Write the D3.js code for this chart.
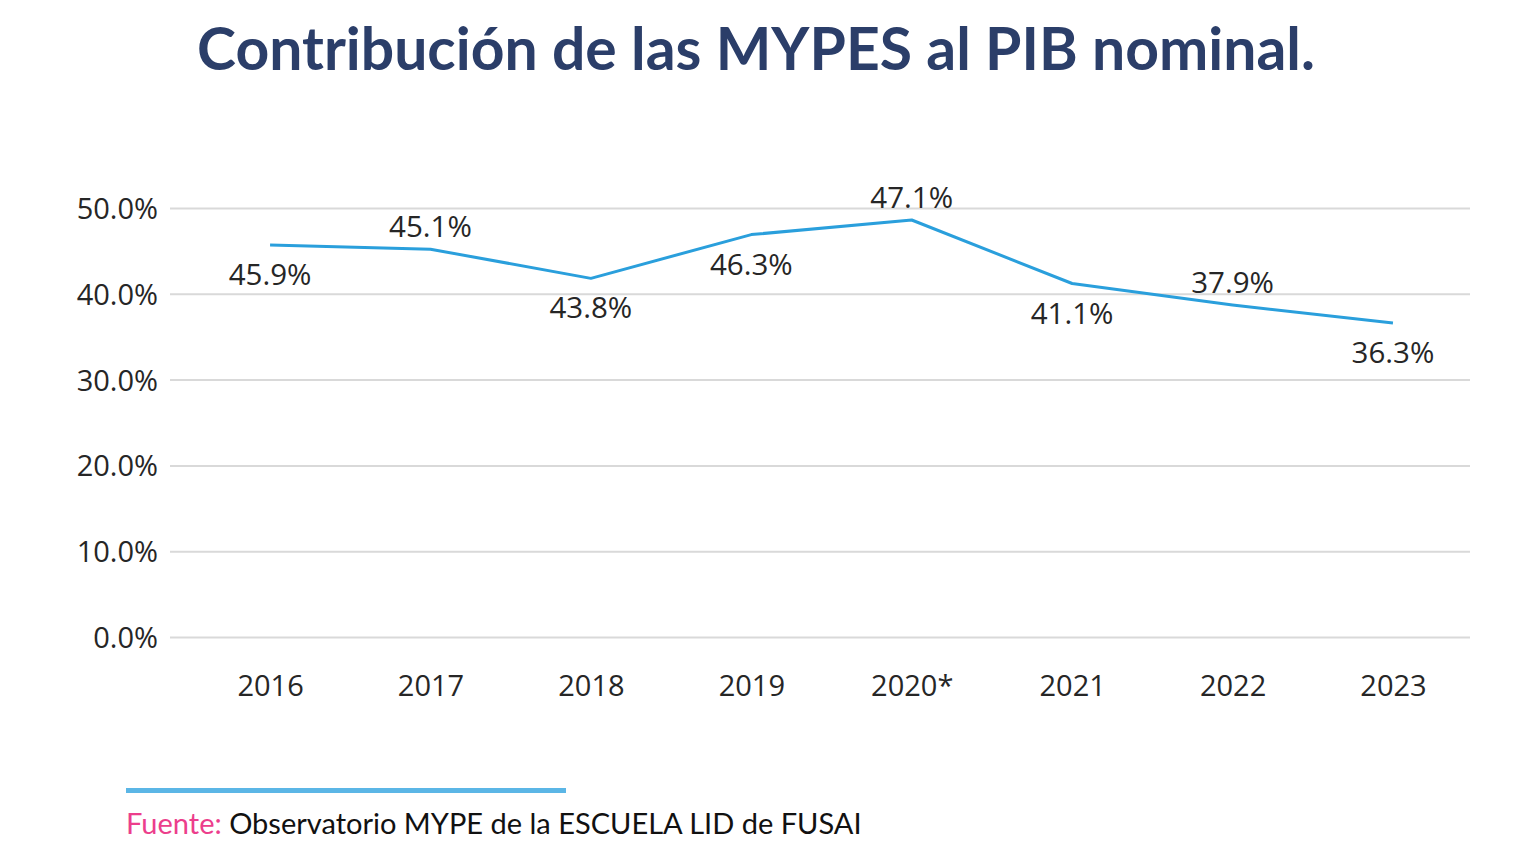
<!DOCTYPE html>
<html>
<head>
<meta charset="utf-8">
<script src="https://cdn.jsdelivr.net/npm/d3@7"></script>
<style>
  html, body { margin: 0; padding: 0; background: #ffffff; }
  svg { display: block; }
</style>
</head>
<body>
<svg id="chart" width="1536" height="857"></svg>
<script>
// ---- data ----
const years = ["2016", "2017", "2018", "2019", "2020*", "2021", "2022", "2023"];
// values as plotted by the line in the reference
const values = [45.7, 45.2, 41.8, 46.9, 48.6, 41.2, 38.7, 36.6];
// printed data labels
const labelTexts = ["45.9%", "45.1%", "43.8%", "46.3%", "47.1%", "41.1%", "37.9%", "36.3%"];
const labelSide = ["below", "above", "below", "below", "above", "below", "above", "below"];
const yTicks = [0, 10, 20, 30, 40, 50];
const titleText = "Contribución de las MYPES al PIB nominal.";
const sourceLabel = "Fuente:";
const sourceText = " Observatorio MYPE de la ESCUELA LID de FUSAI";

// ---- layout ----
const svg = d3.select("#chart");
const plot = { left: 170, right: 1470, top: 208, bottom: 637 };

const x = d3.scalePoint()
  .domain(years)
  .range([plot.left, plot.right])
  .padding(0.552)
  .align(0.565);

const y = d3.scaleLinear()
  .domain([0, 50])
  .range([plot.bottom, plot.top]);

const textFont = "'Open Sans', 'Noto Sans', sans-serif";
const textColor = "#262626";
const textSize = 29.5;

// title
const title = svg.append("text")
  .attr("x", 756)
  .attr("y", 70)
  .attr("text-anchor", "middle")
  .attr("font-family", "'Lato', 'Noto Sans', sans-serif")
  .attr("font-weight", 700)
  .attr("font-size", 58)
  .attr("fill", "#2B3E69")
  .text(titleText);
// fit title width to reference (~1118px)
const tw = title.node().getComputedTextLength();
title.attr("font-size", 58 * 1118 / tw);

// gridlines + y axis
const yAxis = d3.axisLeft(y)
  .tickValues(yTicks)
  .tickSize(-(plot.right - plot.left))
  .tickPadding(12)
  .tickFormat(d => d3.format(".1f")(d) + "%");

const gy = svg.append("g")
  .attr("transform", `translate(${plot.left},0)`)
  .call(yAxis);
gy.select(".domain").remove();
gy.selectAll(".tick line")
  .attr("stroke", "#d9d9d9")
  .attr("stroke-width", 2);
gy.selectAll(".tick text")
  .attr("font-family", textFont)
  .attr("font-size", textSize - 0.5)
  .attr("fill", textColor)
  .attr("dy", "0.36em");

// x axis labels
const xAxis = d3.axisBottom(x).tickSize(0).tickPadding(0);
const gx = svg.append("g")
  .attr("transform", `translate(0,${plot.bottom})`)
  .call(xAxis);
gx.select(".domain").remove();
gx.selectAll(".tick text")
  .attr("font-family", textFont)
  .attr("font-size", textSize - 0.5)
  .attr("fill", textColor)
  .attr("dy", 0)
  .attr("y", 59);

// line
const line = d3.line()
  .x((d, i) => x(years[i]))
  .y(d => y(d));

svg.append("path")
  .datum(values)
  .attr("d", line)
  .attr("fill", "none")
  .attr("stroke", "#2A9FDC")
  .attr("stroke-width", 3)
  .attr("stroke-linejoin", "round");

// data labels
svg.append("g")
  .selectAll("text")
  .data(values)
  .join("text")
  .attr("x", (d, i) => x(years[i]))
  .attr("y", (d, i) => labelSide[i] === "above" ? y(d) - 12 : y(d) + 40)
  .attr("text-anchor", "middle")
  .attr("font-family", textFont)
  .attr("font-size", textSize)
  .attr("fill", textColor)
  .text((d, i) => labelTexts[i]);

// source bar
svg.append("rect")
  .attr("x", 126)
  .attr("y", 788)
  .attr("width", 440)
  .attr("height", 5)
  .attr("fill", "#5BB6E6");

const src = svg.append("text")
  .attr("x", 126)
  .attr("y", 834)
  .attr("font-family", "'Lato', 'Noto Sans', sans-serif")
  .attr("font-size", 26)
  .attr("fill", "#111111");
src.append("tspan").attr("fill", "#EC3E8C").text(sourceLabel);
src.append("tspan").text(sourceText);
const sw = src.node().getComputedTextLength();
src.attr("font-size", 26 * 736 / sw);
</script>
</body>
</html>
